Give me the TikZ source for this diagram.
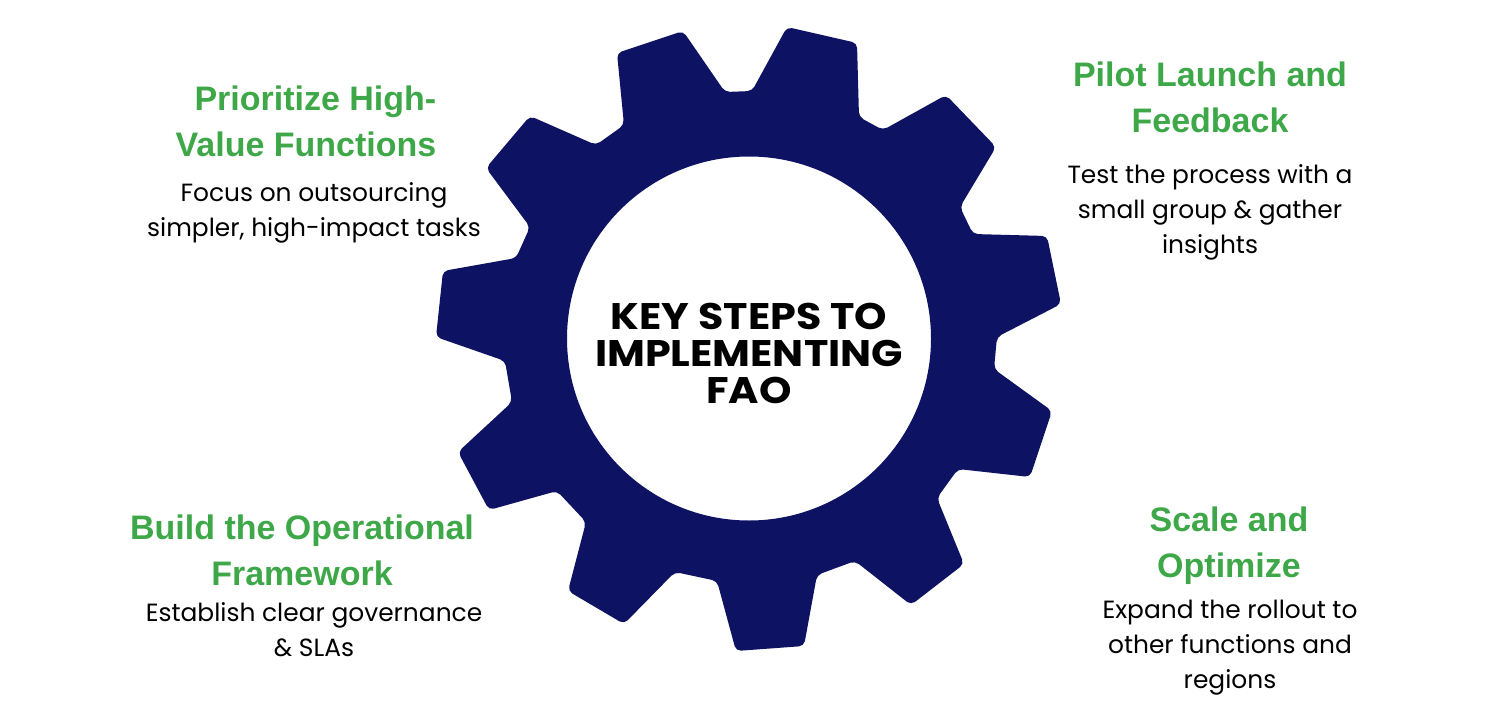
\documentclass[tikz,border=0pt]{standalone}
\usepackage{fontspec}
\setmainfont{Poppins}
\newfontfamily\headfont{Liberation Sans}[BoldFont={Liberation Sans Bold}]
\newfontfamily\titlefont{Poppins}[FakeStretch=1.115]
\definecolor{navy}{RGB}{13,18,98}
\definecolor{stepgreen}{RGB}{62,168,73}
\tikzset{
  head/.style={text=stepgreen,font=\headfont\bfseries\fontsize{34}{46}\selectfont,align=center,inner sep=0pt},
  body/.style={text=black,font=\fontsize{24.9}{35}\selectfont,align=center,inner sep=0pt},
  title/.style={text=black,font=\titlefont\bfseries\fontsize{37}{37}\selectfont,align=center,inner sep=0pt}
}
\begin{document}
\begin{tikzpicture}[x=1pt,y=-1pt]
\useasboundingbox (0,0) rectangle (1500,715);
\fill[navy,rounded corners=5pt,even odd rule]
 (725,92)--(752,91)--(787,27)--(857,43)--(859,117)--(883,130)--(946,95)--(996,147)--(960,207)--(973,234)--(1047,236)--(1061,304)--(997,337)--(994,369)--(1052,411)--(1030,477)--(958,469)--(937,498)--(964,564)--(911,605)--(855,561)--(817,575)--(804,646)--(736,651)--(717,581)--(675,572)--(624,624)--(568,591)--(586,522)--(557,491)--(489,510)--(458,452)--(512,402)--(505,361)--(436,337)--(443,271)--(516,258)--(530,227)--(486,168)--(530,116)--(596,145)--(624,125)--(617,53)--(683,31)--cycle
 (749,338.5) circle[radius=182];
\node[title] (centre) at (749,353) {KEY STEPS TO\\IMPLEMENTING\\FAO};
\node[head,align=right,anchor=east] (h1) at (436.5,121) {Prioritize High-\\Value Functions};
\node[body] (b1) at (314,212.5) {Focus on outsourcing\\simpler, high-impact tasks};
\node[head] (h2) at (1210,97) {Pilot Launch and\\Feedback};
\node[body] (b2) at (1210,212) {Test the process with a\\small group \& gather\\insights};
\node[head] (h3) at (302,550) {Build the Operational\\Framework};
\node[body] (b3) at (314,629.5) {Establish clear governance\\\& SLAs};
\node[head] (h4) at (1229,546) {Scale and\\Optimize};
\node[body] (b4) at (1230,648) {Expand the rollout to\\other functions and\\regions};
\end{tikzpicture}
\end{document}
